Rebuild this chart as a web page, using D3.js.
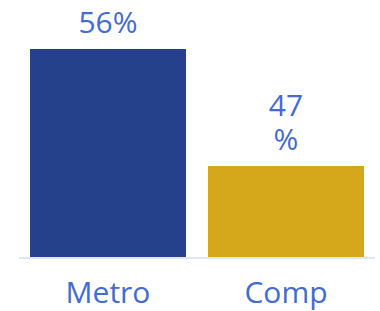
<!DOCTYPE html>
<html>
<head>
<meta charset="utf-8">
<script src="https://cdn.jsdelivr.net/npm/d3@7"></script>
<style>
  body { margin: 0; background: #fff; }
  text { font-family: "Open Sans", sans-serif; }
</style>
</head>
<body>
<div id="container"></div>
<script>
// chart data
const categories = ["Metro", "Comp"];
const values = [56, 47];
// value labels as shown (second one wraps onto two lines)
const valueLabels = [["56%"], ["47", "%"]];
const barColors = ["#25418c", "#d5a81b"];

const width = 380;
const height = 311;
const baseY = 257;

const svg = d3
  .select("#container")
  .append("svg")
  .attr("width", width)
  .attr("height", height);

// x scale for the two bars
const x = d3
  .scaleBand()
  .domain(categories)
  .range([30, 364])
  .paddingInner(0.1236)
  .paddingOuter(0);

// y axis does not start at zero
const y = d3.scaleLinear().domain([40, 60]).range([baseY, -3]);

// bars
svg
  .selectAll("rect.bar")
  .data(values)
  .enter()
  .append("rect")
  .attr("class", "bar")
  .attr("x", (d, i) => x(categories[i]))
  .attr("y", (d) => y(d))
  .attr("width", x.bandwidth())
  .attr("height", (d) => baseY - y(d))
  .attr("fill", (d, i) => barColors[i]);

// baseline
svg
  .append("line")
  .attr("x1", 19)
  .attr("x2", 375)
  .attr("y1", baseY + 1)
  .attr("y2", baseY + 1)
  .attr("stroke", "#d3dcef")
  .attr("stroke-width", 1.5);

// value labels above bars, one text per line
values.forEach((v, i) => {
  const lines = valueLabels[i];
  const cx = x(categories[i]) + x.bandwidth() / 2;
  lines.forEach((l, j) => {
    svg
      .append("text")
      .attr("x", cx)
      .attr("y", y(v) - 16 - (lines.length - 1 - j) * 34)
      .attr("text-anchor", "middle")
      .attr("font-size", 30)
      .attr("fill", "#436bd3")
      .text(l);
  });
});

// category labels
const xAxis = d3.axisBottom(x).tickSize(0).tickPadding(0);
const gx = svg
  .append("g")
  .attr("transform", "translate(0," + (baseY + 46) + ")")
  .call(xAxis);
gx.select(".domain").remove();
gx.selectAll("text")
  .attr("dy", 0)
  .attr("font-size", 30)
  .attr("fill", "#436bd3")
  .style("font-family", "Open Sans, sans-serif");
</script>
</body>
</html>
